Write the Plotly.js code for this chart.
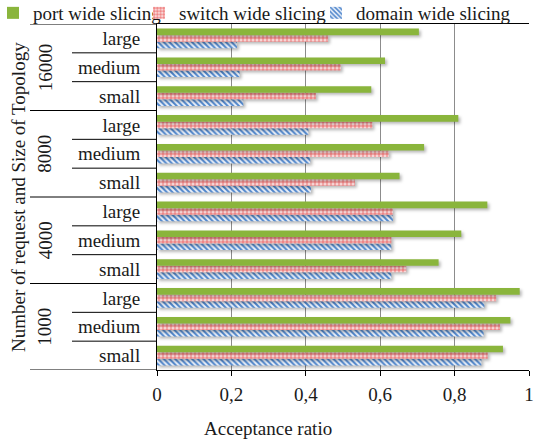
<!DOCTYPE html>
<html>
<head>
<meta charset="utf-8">
<script src="https://cdn.plot.ly/plotly-3.0.1.min.js"></script>
<style>
  html, body { margin: 0; padding: 0; background: #fff; }
  #chart { width: 535px; height: 443px; }
  /* soft drop shadow under each bar */
  #chart .barlayer .point path { filter: drop-shadow(2px 2.5px 1.5px rgba(0, 0, 0, 0.28)); }
</style>
</head>
<body>
<div id="chart"></div>
<script>
// Categories, listed bottom to top
const requestCounts = ['1000', '1000', '1000', '4000', '4000', '4000',
                       '8000', '8000', '8000', '16000', '16000', '16000'];
const topologySizes = ['small', 'medium', 'large', 'small', 'medium', 'large',
                       'small', 'medium', 'large', 'small', 'medium', 'large'];

// Acceptance ratio per slicing strategy (same order as above)
const portWide   = [0.93, 0.95, 0.975, 0.757, 0.818, 0.888, 0.652, 0.718, 0.81, 0.576, 0.613, 0.704];
const switchWide = [0.889, 0.922, 0.912, 0.67, 0.63, 0.634, 0.532, 0.623, 0.579, 0.427, 0.494, 0.46];
const domainWide = [0.872, 0.878, 0.88, 0.63, 0.63, 0.634, 0.414, 0.412, 0.407, 0.232, 0.222, 0.215];

const xTicks = [0, 0.2, 0.4, 0.6, 0.8, 1];
const xTickText = ['0', '0,2', '0,4', '0,6', '0,8', '1'];

const serif = '"Liberation Serif", "Times New Roman", serif';
const FS = 19;

// one unique key per bar row; the axis shows only the size part
const yKeys = requestCounts.map((r, i) => r + ' ' + topologySizes[i]);

// plot area in pixels (for placing the category frame left of the axis)
const W = 535, H = 443, ML = 157, MR = 6, MT = 24, MB = 73;
const plotW = W - ML - MR, plotH = H - MT - MB;
const px2paperX = p => (p - ML) / plotW;
const px2paperY = p => (H - MB - p) / plotH;

const traces = [
  {
    name: 'domain wide slicing', type: 'bar', orientation: 'h',
    x: domainWide, y: yKeys, legend: 'legend3',
    marker: {
      color: '#ffffff', line: { width: 0 },
      pattern: { shape: '\\', fgcolor: '#4f86cc', bgcolor: '#eef3fb', size: 4, solidity: 0.5 }
    }
  },
  {
    name: 'switch wide slicing', type: 'bar', orientation: 'h',
    x: switchWide, y: yKeys, legend: 'legend2',
    marker: {
      color: '#f6c4c4', line: { width: 0 },
      pattern: { shape: '+', fgcolor: '#e84545', bgcolor: '#f9d6d6', size: 4, solidity: 0.3 }
    }
  },
  {
    name: 'port wide slicing', type: 'bar', orientation: 'h',
    x: portWide, y: yKeys, legend: 'legend',
    marker: { color: '#8ab53c', line: { width: 0 } }
  }
];

// frame lines between the rows of the category labels
const shapes = [];
for (let k = 0; k <= yKeys.length; k++) {
  const outer = (k % 3 === 0);
  shapes.push({
    type: 'line', xref: 'paper', yref: 'y',
    x0: px2paperX(outer ? 30 : 72), x1: 0, y0: k - 0.5, y1: k - 0.5,
    line: { color: '#000', width: 1 }
  });
}

// request-count group labels (rotated), one per group of three rows
const groupNames = [...new Set(requestCounts)];
const annotations = groupNames.map(g => {
  const idx = requestCounts.map((r, i) => r === g ? i : -1).filter(i => i >= 0);
  const mid = (idx[0] + idx[idx.length - 1]) / 2;
  return {
    text: g, xref: 'paper', yref: 'y', x: px2paperX(45), y: mid,
    textangle: -90, showarrow: false, xanchor: 'center', yanchor: 'middle',
    font: { family: serif, size: FS, color: '#1a1a1a' }
  };
});
annotations.push({
  text: 'Number of request and Size of Topology', xref: 'paper', yref: 'paper',
  x: px2paperX(18), y: 0.5, textangle: -90, showarrow: false,
  xanchor: 'center', yanchor: 'middle',
  font: { family: serif, size: FS, color: '#1a1a1a' }
});
annotations.push({
  text: 'Acceptance ratio', xref: 'paper', yref: 'paper',
  x: px2paperX(268), y: px2paperY(428), showarrow: false,
  xanchor: 'center', yanchor: 'middle',
  font: { family: serif, size: FS, color: '#1a1a1a' }
});

const legendBase = {
  orientation: 'h', yref: 'paper', y: px2paperY(-6), yanchor: 'top', xanchor: 'left',
  font: { family: serif, size: FS, color: '#1a1a1a' }, itemwidth: 30,
  bgcolor: 'rgba(0,0,0,0)'
};

const layout = {
  width: W, height: H,
  margin: { l: ML, r: MR, t: MT, b: MB, autoexpand: false },
  paper_bgcolor: '#ffffff', plot_bgcolor: '#ffffff',
  font: { family: serif, size: FS, color: '#1a1a1a' },
  barmode: 'group',
  bargap: 0.32,
  bargroupgap: 0,
  showlegend: true,
  legend:  Object.assign({}, legendBase, { x: px2paperX(-7) }),
  legend2: Object.assign({}, legendBase, { x: px2paperX(139) }),
  legend3: Object.assign({}, legendBase, { x: px2paperX(316) }),
  xaxis: {
    range: [0, 1], tickvals: xTicks, ticktext: xTickText,
    showgrid: true, gridcolor: '#8c8c8c', gridwidth: 1,
    zeroline: false, showline: true, mirror: true, linecolor: '#000', linewidth: 1,
    ticks: 'outside', ticklen: 5, tickcolor: '#000',
    ticklabelstandoff: 2,
    tickfont: { family: serif, size: FS }
  },
  yaxis: {
    type: 'category', range: [-0.5, yKeys.length - 0.5],
    tickvals: yKeys, ticktext: topologySizes,
    showline: true, linecolor: '#000', linewidth: 1,
    ticks: '', ticklabelstandoff: 12,
    tickfont: { family: serif, size: FS },
    showgrid: false, zeroline: false
  },
  shapes: shapes,
  annotations: annotations
};

Plotly.newPlot('chart', traces, layout, { displayModeBar: false, staticPlot: true });
</script>
</body>
</html>
